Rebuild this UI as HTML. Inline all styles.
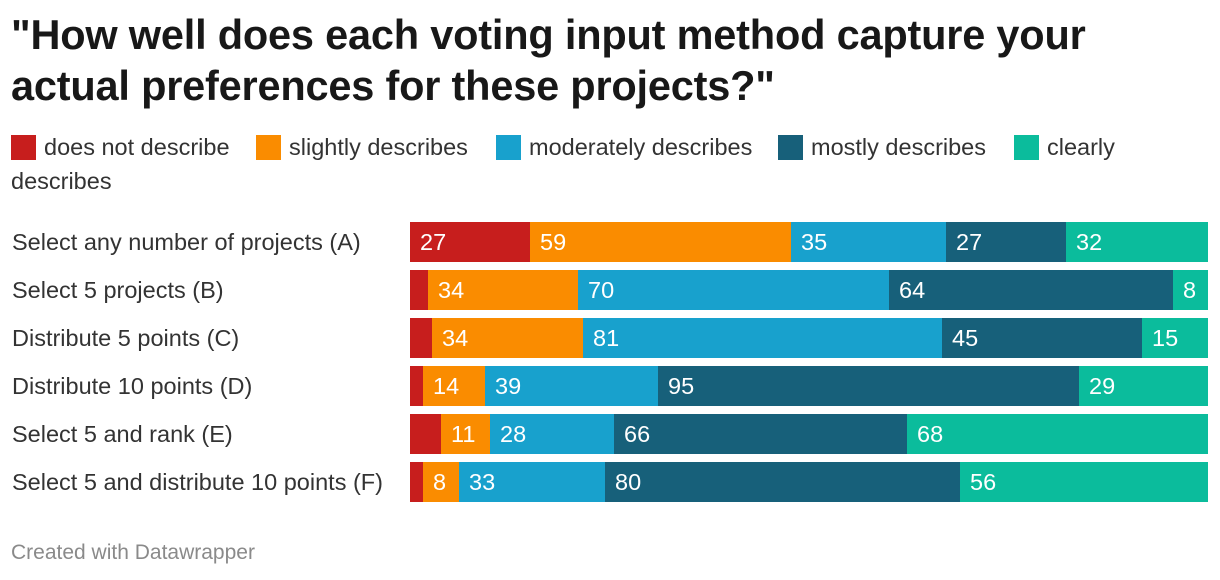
<!DOCTYPE html>
<html><head><meta charset="utf-8">
<style>
body{margin:0;width:1220px;height:580px;background:#fff;font-family:"Liberation Sans",sans-serif;overflow:hidden;position:relative}
.title{position:absolute;left:11px;top:9px;font-size:41.5px;font-weight:bold;line-height:51px;color:#181818;letter-spacing:-0.2px;white-space:nowrap}
.li{position:absolute;font-size:23.5px;line-height:34px;color:#333;white-space:nowrap}
.sw{position:absolute;width:25px;height:25px}
.rl{position:absolute;left:12px;font-size:23.5px;color:#333;line-height:40px;white-space:nowrap}
.seg{position:absolute;height:40px;color:#fff;font-size:23.5px;line-height:40px;box-sizing:border-box;padding-left:10px;overflow:hidden;white-space:nowrap}
.foot{position:absolute;left:11px;top:541px;font-size:21px;color:#8a8a8a}
</style></head><body>
<div class="title">"How well does each voting input method capture your<br>actual preferences for these projects?"</div>
<div id="legend"></div>
<div id="chart"></div>
<div class="foot">Created with Datawrapper</div>
<script>
const categories=["Select any number of projects (A)","Select 5 projects (B)","Distribute 5 points (C)","Distribute 10 points (D)","Select 5 and rank (E)","Select 5 and distribute 10 points (F)"];
const seriesNames=["does not describe","slightly describes","moderately describes","mostly describes","clearly"];
const doesNot=[27,4,5,3,7,3];
const slightly=[59,34,34,14,11,8];
const moderately=[35,70,81,39,28,33];
const mostly=[27,64,45,95,66,80];
const clearly=[32,8,15,29,68,56];
const colors=["#c71e1d","#fa8c00","#18a1cd","#17607a","#0bbc9c"];
const series=[doesNot,slightly,moderately,mostly,clearly];
const keys=["does-not","slightly","moderately","mostly","clearly"];
const legX=[11,256,496,778,1014];
const x0=410,W=798,y0=222,step=48;
const leg=document.getElementById('legend');
seriesNames.forEach((n,i)=>{
 const sw=document.createElement('span');sw.className='sw';
 sw.style.left=legX[i]+'px';sw.style.top='135px';sw.style.background=colors[i];
 
 
 leg.appendChild(sw);
 const s=document.createElement('span');s.className='li';
 s.style.left=(legX[i]+33)+'px';s.style.top='130px';s.textContent=n;
 
 
 leg.appendChild(s);
});
const s2=document.createElement('span');s2.className='li';s2.style.left='11px';s2.style.top='164px';s2.textContent='describes';


leg.appendChild(s2);
const ch=document.getElementById('chart');
categories.forEach((c,r)=>{
 const y=y0+r*step;
 const l=document.createElement('div');l.className='rl';l.style.top=y+'px';l.textContent=c;
 
 
 ch.appendChild(l);
 let tot=0;series.forEach(s=>tot+=s[r]);
 let acc=0;
 series.forEach((s,i)=>{
  const v=s[r];
  const a=Math.round(x0+acc/tot*W),b=Math.round(x0+(acc+v)/tot*W);acc+=v;
  const d=document.createElement('div');d.className='seg';
  d.style.left=a+'px';d.style.top=y+'px';d.style.width=(b-a)+'px';d.style.background=colors[i];
  if(b-a>32)d.textContent=v;
  
  
  ch.appendChild(d);
 });
});
</script>
</body></html>
